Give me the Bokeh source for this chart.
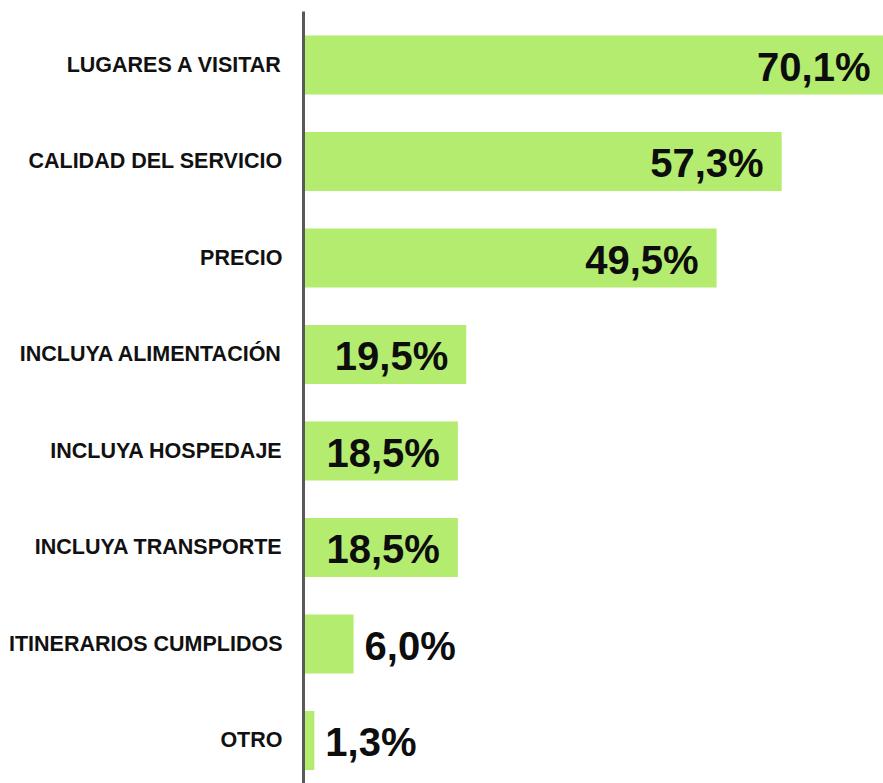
from bokeh.plotting import figure
from bokeh.models import ColumnDataSource, Range1d, FixedTicker
from bokeh.core.properties import value
from bokeh.embed import file_html
from bokeh.resources import INLINE

categories = ["LUGARES A VISITAR", "CALIDAD DEL SERVICIO", "PRECIO", "INCLUYA ALIMENTACIÓN",
              "INCLUYA HOSPEDAJE", "INCLUYA TRANSPORTE", "ITINERARIOS CUMPLIDOS", "OTRO"]
values = [70.1, 57.3, 49.5, 19.5, 18.5, 18.5, 6.0, 1.3]

pos = list(range(len(categories)))
labels = [f"{v:.1f}".replace(".", ",") + "%" for v in values]

inside = ColumnDataSource(dict(y=[p for p, v in zip(pos, values) if v >= 10],
                               x=[v for v in values if v >= 10],
                               t=[l for l, v in zip(labels, values) if v >= 10]))
outside = ColumnDataSource(dict(y=[p for p, v in zip(pos, values) if v < 10],
                                x=[v for v in values if v < 10],
                                t=[l for l, v in zip(labels, values) if v < 10]))

p = figure(width=883, height=783, output_backend="svg", toolbar_location=None,
           x_range=Range1d(0, 69.5), y_range=Range1d(7.446, -0.554),
           min_border_left=303, min_border_right=0, min_border_top=11, min_border_bottom=0)

p.hbar(y=pos, right=values, left=0, height=0.61, fill_color="#b4ec6f", line_color=None)

p.text(x="x", y="y", text="t", source=inside, x_offset=-18, y_offset=2,
       text_align="right", text_baseline="middle",
       text_font=value("Liberation Sans"), text_font_style="bold",
       text_font_size="40px", text_color="#0d0d0d")
p.text(x="x", y="y", text="t", source=outside, x_offset=11, y_offset=2,
       text_align="left", text_baseline="middle",
       text_font=value("Liberation Sans"), text_font_style="bold",
       text_font_size="40px", text_color="#0d0d0d")

p.xaxis.visible = False
p.xgrid.visible = False
p.ygrid.visible = False
p.outline_line_color = None

ya = p.yaxis[0]
ya.ticker = FixedTicker(ticks=pos)
ya.major_label_overrides = {i: c for i, c in zip(pos, categories)}
ya.major_tick_line_color = None
ya.minor_tick_line_color = None
ya.major_tick_out = 0
ya.major_tick_in = 0
ya.major_label_standoff = 21
ya.axis_line_color = "#595959"
ya.axis_line_width = 3
ya.major_label_text_font = "Liberation Sans"
ya.major_label_text_font_style = "bold"
ya.major_label_text_font_size = "21.5px"
ya.major_label_text_color = "#111111"

open("out.html", "w").write(file_html(p, INLINE))
